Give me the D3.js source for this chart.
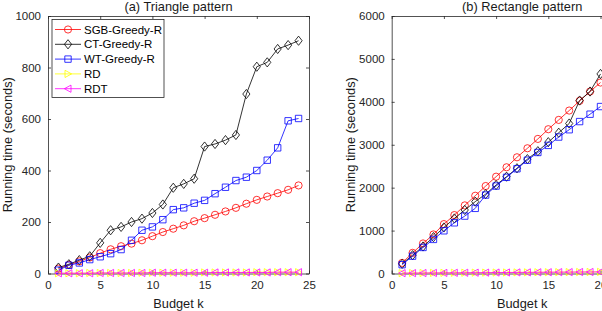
<!DOCTYPE html>
<head>
<meta charset="utf-8">
<script src="https://d3js.org/d3.v7.min.js"></script>
<style>
body { margin:0; background:#fff; }
svg { font-family: "Liberation Sans", Arial, sans-serif; display:block; }
.tick text { fill:#262626; font-size:11.5px; font-family: "Liberation Sans", Arial, sans-serif; }
.ttl, .lbl { fill:#1a1a1a; font-size:12.8px; font-weight:normal; }
.leg text { fill:#000; font-size:11.5px; }
</style>
</head>
<body>
<script>
// budget k
var kLeft = d3.range(1, 25);
var kRight = d3.range(1, 21);

// (a) triangle pattern, seconds
var sgbTri = [19, 33, 47, 62, 79, 94, 106, 116, 129, 145, 161, 174, 187, 203, 215, 228, 241, 255, 271, 286, 299, 312, 325, 342];
var ctTri  = [23, 36, 52, 67, 119, 168, 181, 200, 213, 235, 268, 333, 348, 368, 493, 503, 518, 538, 697, 803, 820, 872, 887, 904];
var wtTri  = [13, 32, 41, 54, 65, 77, 93, 129, 168, 181, 209, 248, 255, 273, 284, 310, 335, 361, 374, 400, 440, 488, 593, 602];
var rdTri  = [1, 1, 1, 2, 2, 2, 2, 2, 3, 3, 3, 3, 3, 3, 4, 4, 4, 4, 4, 5, 5, 5, 5, 5];
var rdtTri = [1, 1, 1, 1, 2, 2, 2, 2, 2, 3, 3, 3, 3, 3, 3, 4, 4, 4, 4, 4, 4, 5, 5, 5];

// (b) rectangle pattern, seconds
var sgbRect = [247, 481, 700, 910, 1151, 1361, 1587, 1812, 2038, 2256, 2475, 2708, 2918, 3136, 3362, 3579, 3797, 4023, 4240, 4450];
var ctRect  = [225, 427, 630, 848, 1073, 1283, 1480, 1674, 1850, 2061, 2256, 2452, 2665, 2850, 3060, 3280, 3495, 4030, 4240, 4650];
var wtRect  = [205, 404, 607, 794, 995, 1181, 1338, 1518, 1828, 2038, 2241, 2440, 2640, 2820, 2985, 3180, 3350, 3540, 3712, 3890];
var rdRect  = [8, 10, 12, 14, 15, 17, 18, 20, 21, 23, 24, 26, 27, 29, 30, 32, 33, 35, 36, 38];
var rdtRect = [8, 9, 11, 13, 14, 16, 17, 19, 20, 22, 23, 25, 26, 28, 29, 31, 32, 34, 35, 37];

var names = ["SGB-Greedy-R", "CT-Greedy-R", "WT-Greedy-R", "RD", "RDT"];
var colors = ["#ff0000", "#000000", "#0000ff", "#ffff00", "#ff00ff"];
var shapes = ["circle", "diamond", "square", "right", "left"];

var xTicks = [0, 5, 10, 15, 20, 25];
var yTicksA = [0, 200, 400, 600, 800, 1000];
var yTicksB = [0, 1000, 2000, 3000, 4000, 5000, 6000];

var svg = d3.select("body").append("svg").attr("width", 602).attr("height", 311);

function marker(g, shape, color, cx, cy) {
  var p;
  if (shape == "circle") {
    g.append("circle").attr("cx", cx).attr("cy", cy).attr("r", 3.6)
      .attr("fill", "none").attr("stroke", color).attr("stroke-width", 0.8);
    return;
  }
  if (shape == "square") p = [[-3.2,-3.2],[3.2,-3.2],[3.2,3.2],[-3.2,3.2]];
  if (shape == "diamond") p = [[0,-4.6],[3.6,0],[0,4.6],[-3.6,0]];
  if (shape == "right") p = [[-3,-3.6],[3.6,0],[-3,3.6]];
  if (shape == "left") p = [[3,-3.6],[-3.6,0],[3,3.6]];
  g.append("path").attr("d", "M" + p.map(function(q){ return (cx+q[0]) + "," + (cy+q[1]); }).join("L") + "Z")
    .attr("fill", "none").attr("stroke", color).attr("stroke-width", 0.8);
}

function panel(left, title, yTicks, yMax, ks, series) {
  var top = 16, bottom = 273.5, w = 261;
  var x = d3.scaleLinear().domain([0, 25]).range([left, left + w]);
  var y = d3.scaleLinear().domain([0, yMax]).range([bottom, top]);
  var g = svg.append("g");

  g.append("g").attr("transform", "translate(0," + bottom + ")")
    .call(d3.axisBottom(x).tickValues(xTicks).tickFormat(d3.format("d")).tickSizeInner(-3).tickSizeOuter(0).tickPadding(7));
  g.append("g").attr("transform", "translate(0," + top + ")")
    .call(d3.axisTop(x).tickValues(xTicks).tickSizeInner(-3).tickSizeOuter(0).tickFormat(""));
  g.append("g").attr("transform", "translate(" + left + ",0)")
    .call(d3.axisLeft(y).tickValues(yTicks).tickFormat(d3.format("d")).tickSizeInner(-3).tickSizeOuter(0).tickPadding(7));
  g.append("g").attr("transform", "translate(" + (left + w) + ",0)")
    .call(d3.axisRight(y).tickValues(yTicks).tickSizeInner(-3).tickSizeOuter(0).tickFormat(""));
  g.selectAll(".domain, .tick line").attr("stroke", "#262626").attr("stroke-width", 0.8);

  series.forEach(function(s, i) {
    var pts = s.map(function(v, j){ return [x(ks[j]), y(v)]; });
    g.append("path").attr("d", d3.line()(pts)).attr("fill", "none")
      .attr("stroke", colors[i]).attr("stroke-width", 0.8);
    pts.forEach(function(p){ marker(g, shapes[i], colors[i], p[0], p[1]); });
  });

  g.append("text").attr("class", "ttl").attr("x", left + w/2).attr("y", 11)
    .attr("text-anchor", "middle").text(title);
  g.append("text").attr("class", "lbl").attr("x", left + w/2).attr("y", 307.5)
    .attr("text-anchor", "middle").text("Budget k");
  g.append("text").attr("class", "lbl")
    .attr("transform", "translate(" + (left - 36.5) + "," + ((top + bottom)/2) + ") rotate(-90)")
    .attr("text-anchor", "middle").text("Running time (seconds)");
  return g;
}

panel(48, "(a) Triangle pattern", yTicksA, 1000, kLeft, [sgbTri, ctTri, wtTri, rdTri, rdtTri]);
panel(391.7, "(b) Rectangle pattern", yTicksB, 6000, kRight, [sgbRect, ctRect, wtRect, rdRect, rdtRect]);

// legend
var leg = svg.append("g").attr("class", "leg");
leg.append("rect").attr("x", 52).attr("y", 19.5).attr("width", 112).attr("height", 78)
  .attr("fill", "#fff").attr("stroke", "#262626").attr("stroke-width", 0.8);
names.forEach(function(n, i) {
  var cy = 29.5 + i * 14.8;
  leg.append("line").attr("x1", 55).attr("x2", 81).attr("y1", cy).attr("y2", cy)
    .attr("stroke", colors[i]).attr("stroke-width", 0.8);
  marker(leg, shapes[i], colors[i], 68, cy);
  leg.append("text").attr("x", 84).attr("y", cy + 4).text(n);
});
</script>
</body>
